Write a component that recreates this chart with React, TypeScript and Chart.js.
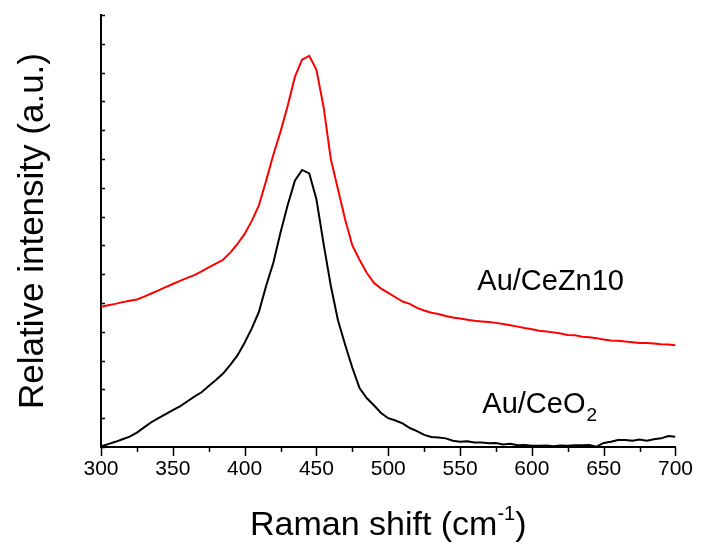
import React, { useEffect, useRef } from "react";
import { Chart, registerables } from "chart.js";

Chart.register(...registerables);

const shifts: number[] = [
  300, 305, 310, 315, 320, 325, 330, 335, 340, 345, 350, 355, 360, 365, 370, 375, 380, 385, 390, 395,
  400, 405, 410, 415, 420, 425, 430, 435, 440, 445, 450, 455, 460, 465, 470, 475, 480, 485, 490, 495,
  500, 505, 510, 515, 520, 525, 530, 535, 540, 545, 550, 555, 560, 565, 570, 575, 580, 585, 590, 595,
  600, 605, 610, 615, 620, 625, 630, 635, 640, 645, 650, 655, 660, 665, 670, 675, 680, 685, 690, 695, 700,
];

const ceZn10: number[] = [
  487, 492, 497, 503, 508, 512, 522, 533, 544, 555, 566, 577, 587, 597, 610, 624, 637, 650, 675, 705,
  740, 785, 840, 925, 1015, 1095, 1185, 1285, 1345, 1358, 1310, 1180, 1000, 895, 790, 700, 650, 605, 570, 550,
  535, 520, 505, 497, 483, 474, 466, 462, 455, 450, 446, 442, 438, 436, 434, 431, 427, 423, 418, 413,
  409, 404, 401, 398, 394, 389, 388, 383, 381, 378, 373, 370, 369, 366, 364, 361, 361, 359, 357, 356, 353,
];

const ceO2: number[] = [
  2, 10, 18, 27, 36, 50, 68, 86, 100, 114, 128, 141, 158, 175, 190, 212, 233, 255, 285, 318,
  362, 412, 470, 560, 640, 745, 840, 925, 962, 950, 860, 705, 560, 440, 355, 275, 205, 170, 145, 118,
  100, 92, 82, 66, 55, 42, 35, 33, 30, 22, 18, 20, 16, 16, 13, 14, 9, 11, 6, 7,
  4, 4, 5, 3, 5, 4, 6, 6, 7, 1, 14, 18, 24, 24, 22, 26, 22, 27, 30, 38, 36,
];

const X_MIN = 300;
const X_MAX = 700;
const X_STEP = 25;
const X_LABEL_EVERY = 50;
const Y_MIN = 0;
const Y_MAX = 1500;
const Y_STEP = 100;

const X_TITLE = "Raman shift (cm";
const X_TITLE_SUP = "-1";
const Y_TITLE = "Relative intensity (a.u.)";

const LABEL_ZN = { text: "Au/CeZn10", x: 562, y: 545 };
const LABEL_O2 = { text: "Au/CeO", sub: "2", x: 565.5, y: 118 };

const FONT = "'Liberation Sans', Arial, sans-serif";

const decor = {
  id: "decor",
  afterDraw(chart: any) {
    const { ctx, chartArea } = chart;
    const xs = chart.scales.x;
    const ys = chart.scales.y;
    ctx.save();
    ctx.strokeStyle = "#000";
    ctx.lineWidth = 1.5;
    ctx.beginPath();
    for (const t of ys.ticks) {
      const py = Math.round(ys.getPixelForValue(t.value)) + 0.5;
      ctx.moveTo(chartArea.left, py);
      ctx.lineTo(chartArea.left + 4, py);
    }
    for (const t of xs.ticks) {
      const px = Math.round(xs.getPixelForValue(t.value)) + 0.5;
      const len = t.value % X_LABEL_EVERY === 0 ? 9 : 5;
      ctx.moveTo(px, chartArea.bottom);
      ctx.lineTo(px, chartArea.bottom + len);
    }
    ctx.stroke();

    // x title with superscript
    ctx.fillStyle = "#000";
    ctx.textBaseline = "alphabetic";
    ctx.textAlign = "left";
    const big = `34px ${FONT}`;
    const small = `20px ${FONT}`;
    ctx.font = big;
    const w1 = ctx.measureText(X_TITLE).width;
    const w3 = ctx.measureText(")").width;
    ctx.font = small;
    const w2 = ctx.measureText(X_TITLE_SUP).width;
    const total = w1 + w2 + w3;
    const cx = (chartArea.left + chartArea.right) / 2;
    let sx = cx - total / 2;
    const by = 535;
    ctx.font = big;
    ctx.fillText(X_TITLE, sx, by);
    sx += w1;
    ctx.font = small;
    ctx.fillText(X_TITLE_SUP, sx, by - 15);
    sx += w2;
    ctx.font = big;
    ctx.fillText(")", sx, by);

    // series labels
    ctx.font = `29px ${FONT}`;
    ctx.fillText(LABEL_ZN.text, xs.getPixelForValue(LABEL_ZN.x), ys.getPixelForValue(LABEL_ZN.y));
    const ox = xs.getPixelForValue(LABEL_O2.x);
    const oy = ys.getPixelForValue(LABEL_O2.y);
    ctx.fillText(LABEL_O2.text, ox, oy);
    const wo = ctx.measureText(LABEL_O2.text).width;
    ctx.font = `19px ${FONT}`;
    ctx.fillText(LABEL_O2.sub, ox + wo + 1, oy + 8);
    ctx.restore();
  },
};

export default function App() {
  const ref = useRef<HTMLCanvasElement>(null);
  useEffect(() => {
    if (!ref.current) return;
    const chart = new Chart(ref.current, {
      type: "line",
      data: {
        labels: shifts,
        datasets: [
          {
            label: "Au/CeZn10",
            data: shifts.map((s, i) => ({ x: s, y: ceZn10[i] })),
            borderColor: "#ff0000",
            borderWidth: 2,
            pointRadius: 0,
            fill: false,
            tension: 0,
          },
          {
            label: "Au/CeO2",
            data: shifts.map((s, i) => ({ x: s, y: ceO2[i] })),
            borderColor: "#000000",
            borderWidth: 2,
            pointRadius: 0,
            fill: false,
            tension: 0,
          },
        ],
      },
      options: {
        animation: false,
        responsive: true,
        maintainAspectRatio: false,
        layout: { padding: { left: 0, top: 15, right: 25, bottom: 0 } },
        plugins: { legend: { display: false }, tooltip: { enabled: false } },
        scales: {
          x: {
            type: "linear",
            min: X_MIN,
            max: X_MAX,
            grid: { display: false, drawTicks: false },
            border: { display: true, color: "#000", width: 2 },
            ticks: {
              stepSize: X_STEP,
              autoSkip: false,
              maxRotation: 0,
              padding: 10,
              color: "#000",
              font: { family: FONT, size: 21 },
              callback: (v: any) => (Number(v) % X_LABEL_EVERY === 0 ? String(v) : ""),
            },
            afterFit: (s: any) => {
              s.height = 103;
            },
          },
          y: {
            type: "linear",
            min: Y_MIN,
            max: Y_MAX,
            grid: { display: false, drawTicks: false },
            border: { display: true, color: "#000", width: 2 },
            ticks: { display: false, stepSize: Y_STEP },
            title: {
              display: true,
              text: Y_TITLE,
              color: "#000",
              font: { family: FONT, size: 35 },
              padding: { top: 12, bottom: 0 },
            },
            afterFit: (s: any) => {
              s.width = 101;
            },
          },
        },
      },
      plugins: [decor],
    });
    return () => chart.destroy();
  }, []);
  return (
    <div style={{ position: "fixed", left: 0, top: 0, width: 703, height: 550, background: "#fff" }}>
      <canvas ref={ref} />
    </div>
  );
}
